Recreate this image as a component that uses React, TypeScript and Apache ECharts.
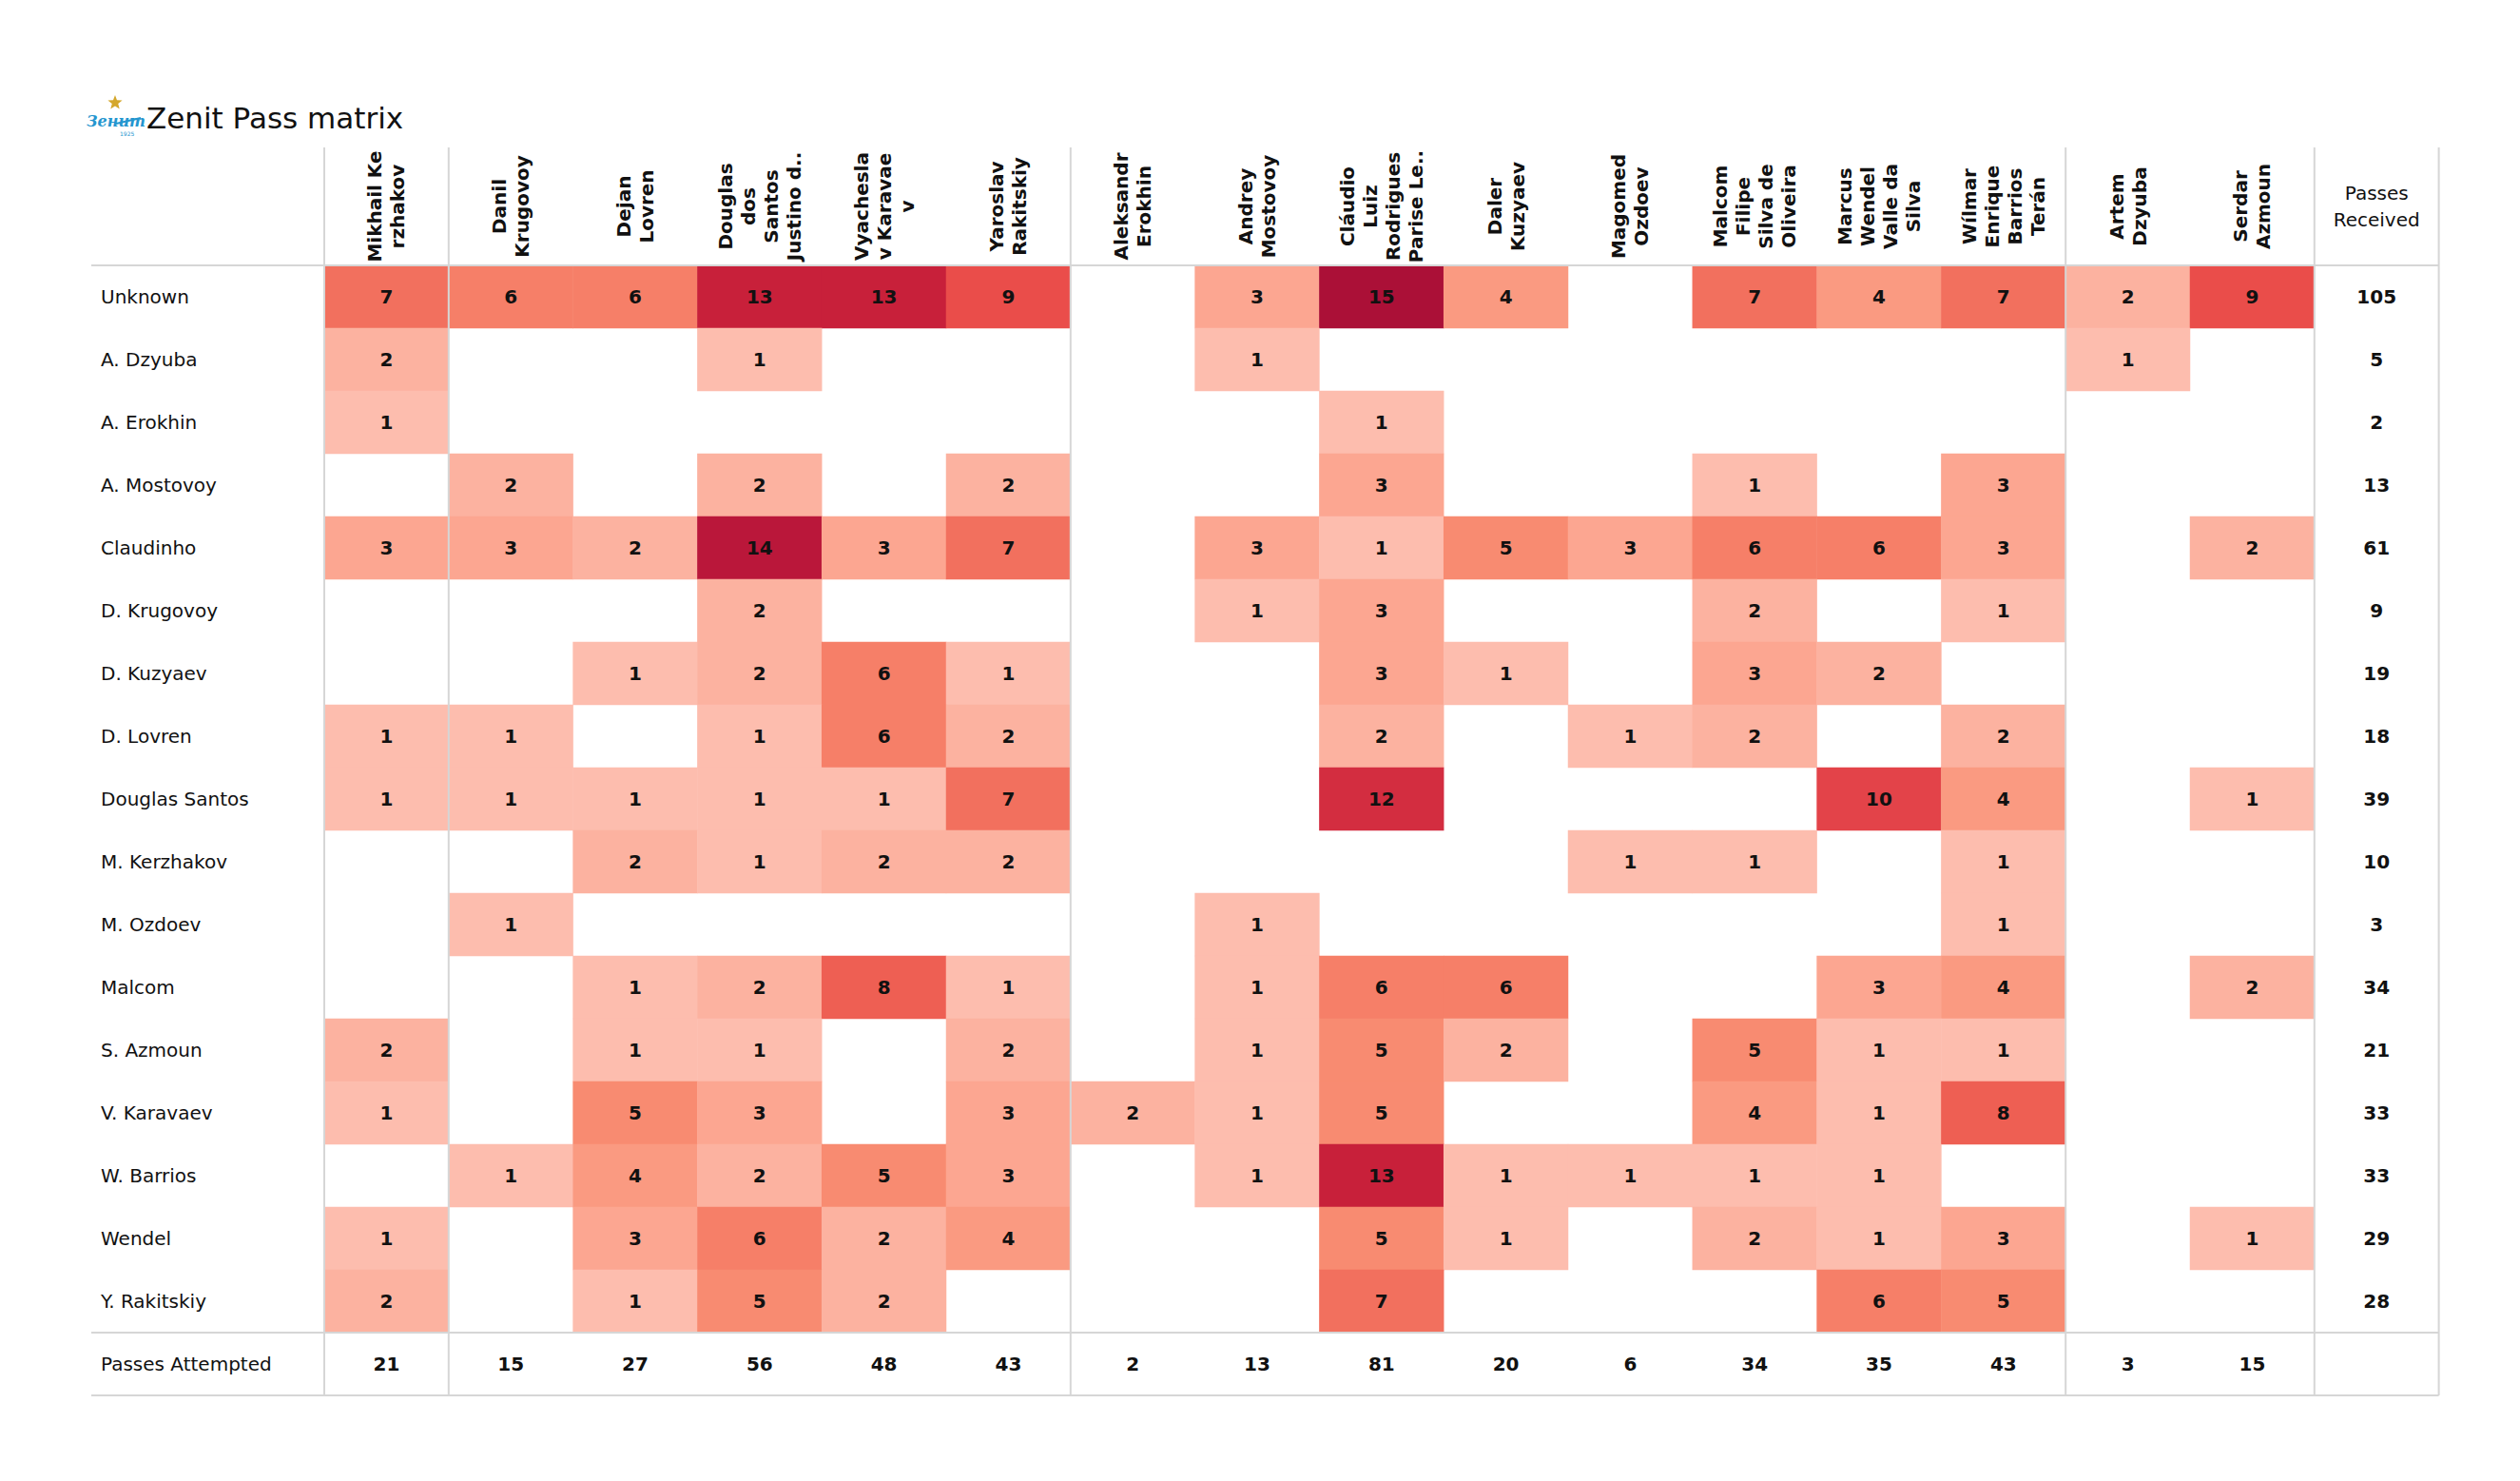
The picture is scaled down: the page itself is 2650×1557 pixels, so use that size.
import React, { useEffect, useRef } from "react";
import * as echarts from "echarts";

const columnLabels = [
  "Mikhail Ke\nrzhakov",
  "Danil\nKrugovoy",
  "Dejan\nLovren",
  "Douglas\ndos\nSantos\nJustino d..",
  "Vyachesla\nv Karavae\nv",
  "Yaroslav\nRakitskiy",
  "Aleksandr\nErokhin",
  "Andrey\nMostovoy",
  "Cláudio\nLuiz\nRodrigues\nParise Le..",
  "Daler\nKuzyaev",
  "Magomed\nOzdoev",
  "Malcom\nFilipe\nSilva de\nOliveira",
  "Marcus\nWendel\nValle da\nSilva",
  "Wílmar\nEnrique\nBarrios\nTerán",
  "Artem\nDzyuba",
  "Serdar\nAzmoun",
];
const receivedLabel = "Passes\nReceived";
const attemptedLabel = "Passes Attempted";

const receivers = [
  "Unknown",
  "A. Dzyuba",
  "A. Erokhin",
  "A. Mostovoy",
  "Claudinho",
  "D. Krugovoy",
  "D. Kuzyaev",
  "D. Lovren",
  "Douglas Santos",
  "M. Kerzhakov",
  "M. Ozdoev",
  "Malcom",
  "S. Azmoun",
  "V. Karavaev",
  "W. Barrios",
  "Wendel",
  "Y. Rakitskiy",
];

// rows = receivers, columns = passers (0 = no passes)
const passMatrix = [
  [7, 6, 6, 13, 13, 9, 0, 3, 15, 4, 0, 7, 4, 7, 2, 9],
  [2, 0, 0, 1, 0, 0, 0, 1, 0, 0, 0, 0, 0, 0, 1, 0],
  [1, 0, 0, 0, 0, 0, 0, 0, 1, 0, 0, 0, 0, 0, 0, 0],
  [0, 2, 0, 2, 0, 2, 0, 0, 3, 0, 0, 1, 0, 3, 0, 0],
  [3, 3, 2, 14, 3, 7, 0, 3, 1, 5, 3, 6, 6, 3, 0, 2],
  [0, 0, 0, 2, 0, 0, 0, 1, 3, 0, 0, 2, 0, 1, 0, 0],
  [0, 0, 1, 2, 6, 1, 0, 0, 3, 1, 0, 3, 2, 0, 0, 0],
  [1, 1, 0, 1, 6, 2, 0, 0, 2, 0, 1, 2, 0, 2, 0, 0],
  [1, 1, 1, 1, 1, 7, 0, 0, 12, 0, 0, 0, 10, 4, 0, 1],
  [0, 0, 2, 1, 2, 2, 0, 0, 0, 0, 1, 1, 0, 1, 0, 0],
  [0, 1, 0, 0, 0, 0, 0, 1, 0, 0, 0, 0, 0, 1, 0, 0],
  [0, 0, 1, 2, 8, 1, 0, 1, 6, 6, 0, 0, 3, 4, 0, 2],
  [2, 0, 1, 1, 0, 2, 0, 1, 5, 2, 0, 5, 1, 1, 0, 0],
  [1, 0, 5, 3, 0, 3, 2, 1, 5, 0, 0, 4, 1, 8, 0, 0],
  [0, 1, 4, 2, 5, 3, 0, 1, 13, 1, 1, 1, 1, 0, 0, 0],
  [1, 0, 3, 6, 2, 4, 0, 0, 5, 1, 0, 2, 1, 3, 0, 1],
  [2, 0, 1, 5, 2, 0, 0, 0, 7, 0, 0, 0, 6, 5, 0, 0],
];

const passesReceived = [105, 5, 2, 13, 61, 9, 19, 18, 39, 10, 3, 34, 21, 33, 33, 29, 28];
const passesAttempted = [21, 15, 27, 56, 48, 43, 2, 13, 81, 20, 6, 34, 35, 43, 3, 15];

// colour for values 1..15
const scaleColors = [
  "#fdbdae", "#fcb2a0", "#fca691", "#fa9a81", "#f88b71",
  "#f67f68", "#f2705e", "#ee5f53", "#ea4d4a", "#e34349",
  "#dc3844", "#d32d40", "#c8203a", "#ba173a", "#ab1037",
];

// separator lines after these column counts
const separatorCols = [0, 1, 6, 14, 16, 17];

const W = 2650;
const H = 1557;
const GRID_LEFT = 341;
const GRID_TOP = 279;
const CELL_W = 130.8;
const CELL_H = 66;
const TABLE_LEFT = 96;
const HEADER_TOP = 155;

export default function App() {
  const ref = useRef<HTMLDivElement>(null);

  useEffect(() => {
    if (!ref.current) return;
    const chart = echarts.init(ref.current, null, { renderer: "svg" });

    const nCols = columnLabels.length + 1;
    const nRows = receivers.length + 1;
    const gridW = CELL_W * nCols;
    const gridH = CELL_H * nRows;
    const right = GRID_LEFT + gridW;
    const bottom = GRID_TOP + gridH;

    const cellData: any[] = [];
    passMatrix.forEach((row, r) =>
      row.forEach((v, c) => {
        if (v > 0) cellData.push([c, r, v]);
      })
    );
    const totalData: any[] = [];
    passesReceived.forEach((v, r) => totalData.push([columnLabels.length, r, v]));
    passesAttempted.forEach((v, c) => totalData.push([c, receivers.length, v]));

    const lineStyle = { stroke: "#d6d6d6", lineWidth: 2 };
    const graphics: any[] = [];
    separatorCols.forEach((i) => {
      const x = GRID_LEFT + i * CELL_W;
      graphics.push({
        type: "line",
        z: 100,
        shape: { x1: x, y1: HEADER_TOP, x2: x, y2: bottom },
        style: lineStyle,
      });
    });
    [GRID_TOP, bottom - CELL_H, bottom].forEach((y) => {
      graphics.push({
        type: "line",
        z: 100,
        shape: { x1: TABLE_LEFT, y1: y, x2: right, y2: y },
        style: lineStyle,
      });
    });

    // logo: star + script wordmark
    const starPts: number[][] = [];
    const cx = 121, cy = 108;
    for (let k = 0; k < 10; k++) {
      const rr = k % 2 === 0 ? 8 : 3.4;
      const a = -Math.PI / 2 + (k * Math.PI) / 5;
      starPts.push([cx + rr * Math.cos(a), cy + rr * Math.sin(a)]);
    }
    graphics.push({ type: "polygon", shape: { points: starPts }, style: { fill: "#d4a72c" } });
    graphics.push({
      type: "text",
      x: 91,
      y: 127,
      style: {
        text: "Зенит",
        fill: "#2596cf",
        font: "italic bold 16px 'DejaVu Serif'",
        textVerticalAlign: "middle",
      },
    });
    graphics.push({
      type: "line",
      shape: { x1: 122, y1: 130, x2: 148, y2: 124 },
      style: { stroke: "#2596cf", lineWidth: 2 },
    });
    graphics.push({
      type: "text",
      x: 126,
      y: 140,
      style: { text: "1925", fill: "#2596cf", font: "6px 'DejaVu Sans'", textVerticalAlign: "middle" },
    });
    graphics.push({
      type: "text",
      x: 154,
      y: 124,
      style: {
        text: "Zenit Pass matrix",
        fill: "#111111",
        font: "31px 'DejaVu Sans'",
        textVerticalAlign: "middle",
      },
    });

    const xCats = [...columnLabels, receivedLabel];
    const yCats = [...receivers, attemptedLabel];

    const cellLabel = {
      show: true,
      fontSize: 20,
      fontWeight: "bold",
      color: "#111111",
      fontFamily: "DejaVu Sans",
      formatter: (p: any) => String(p.value[2]),
    };

    chart.setOption({
      animation: false,
      backgroundColor: "#ffffff",
      textStyle: { fontFamily: "DejaVu Sans" },
      grid: { left: GRID_LEFT, top: GRID_TOP, width: gridW, height: gridH, containLabel: false },
      xAxis: [
        {
          type: "category",
          position: "top",
          data: xCats,
          axisLine: { show: false },
          axisTick: { show: false },
          splitLine: { show: false },
          axisLabel: {
            interval: 0,
            rotate: -90,
            align: "center",
            verticalAlign: "middle",
            margin: 62,
            fontSize: 20,
            lineHeight: 24,
            fontWeight: "bold",
            color: "#111111",
            fontFamily: "DejaVu Sans",
            formatter: (v: string) => (v === receivedLabel ? "" : v),
          },
        },
        {
          type: "category",
          position: "top",
          data: xCats,
          axisLine: { show: false },
          axisTick: { show: false },
          splitLine: { show: false },
          axisLabel: {
            interval: 0,
            rotate: 0,
            align: "center",
            verticalAlign: "middle",
            margin: 62,
            fontSize: 20,
            lineHeight: 28,
            color: "#111111",
            fontFamily: "DejaVu Sans",
            formatter: (v: string) => (v === receivedLabel ? v : ""),
          },
        },
      ],
      yAxis: {
        type: "category",
        inverse: true,
        data: yCats,
        axisLine: { show: false },
        axisTick: { show: false },
        splitLine: { show: false },
        axisLabel: {
          interval: 0,
          align: "left",
          margin: GRID_LEFT - 106,
          fontSize: 20,
          color: "#111111",
          fontFamily: "DejaVu Sans",
        },
      },
      visualMap: [
        {
          show: false,
          type: "continuous",
          seriesIndex: 0,
          dimension: 2,
          min: 1,
          max: 15,
          inRange: { color: scaleColors },
        },
        {
          show: false,
          type: "continuous",
          seriesIndex: 1,
          dimension: 2,
          min: 0,
          max: 200,
          inRange: { color: ["rgba(255,255,255,0)", "rgba(255,255,255,0)"] },
        },
      ],
      series: [
        {
          type: "heatmap",
          xAxisIndex: 0,
          data: cellData,
          label: cellLabel,
          emphasis: { disabled: true },
        },
        {
          type: "heatmap",
          xAxisIndex: 0,
          data: totalData,
          label: cellLabel,
          emphasis: { disabled: true },
        },
      ],
      graphic: graphics,
    });

    return () => chart.dispose();
  }, []);

  return (
    <div
      ref={ref}
      style={{ position: "fixed", left: 0, top: 0, width: W, height: H, background: "#fff" }}
    />
  );
}
